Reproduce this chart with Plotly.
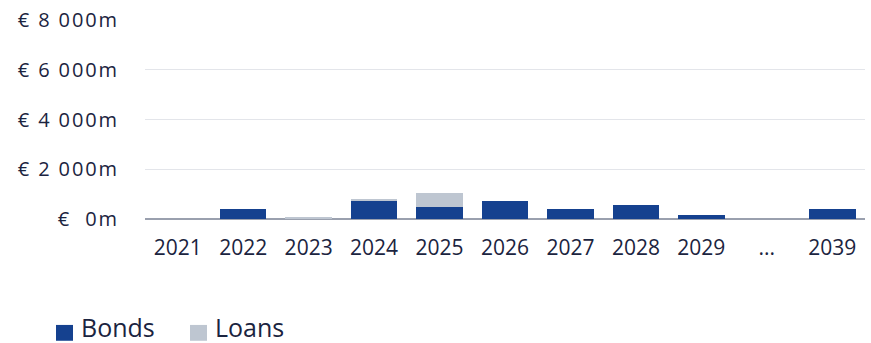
import plotly.graph_objects as go

years = ["2021", "2022", "2023", "2024", "2025", "2026", "2027", "2028", "2029", "...", "2039"]
bonds = [0, 400, 0, 740, 465, 730, 400, 560, 160, 0, 400]
loans = [0, 0, 90, 80, 600, 0, 0, 0, 0, 0, 0]
series_names = ["Bonds", "Loans"]
series_colors = ["#15418f", "#bec6d1"]
y_tickvals = [0, 2000, 4000, 6000, 8000]
y_ticktext = ["€\u00a0\u00a00m", "€ 2 000m", "€ 4 000m", "€ 6 000m", "€ 8 000m"]

navy = "#1b2440"
FONT = "Open Sans"
fig = go.Figure()
for name, vals, col in zip(series_names, [bonds, loans], series_colors):
    fig.add_trace(go.Bar(name=name, x=years, y=vals, marker_color=col, marker_line_width=0))

fig.update_layout(
    barmode="stack",
    bargap=0.29,
    width=871, height=343,
    margin=dict(l=145, r=6, t=18, b=124),
    paper_bgcolor="white", plot_bgcolor="white",
    font=dict(family=FONT, color=navy, size=20),
    showlegend=False,
)
fig.update_xaxes(showgrid=False, showline=False, zeroline=False, ticks="",
                 tickfont=dict(size=21, color=navy), ticklabelstandoff=14)
fig.update_yaxes(range=[0, 8000], tickvals=y_tickvals,
                 ticktext=['<span style="letter-spacing:1.9px">' + t + '</span>' for t in y_ticktext],
                 showgrid=True, gridcolor="#e3e5ea", gridwidth=1,
                 zeroline=True, zerolinecolor="#9aa0ae", zerolinewidth=2,
                 showline=False, ticks="", ticklabelstandoff=25,
                 tickfont=dict(size=20, color=navy))

# custom legend (larger symbols than plotly's built-in legend)
leg_x = [56, 190]
for i, (name, col) in enumerate(zip(series_names, series_colors)):
    x0 = leg_x[i]
    fig.add_shape(type="rect", xref="paper", yref="paper",
                  x0=(x0 - 145) / 720, x1=(x0 + 17 - 145) / 720,
                  y0=(219 - 342) / 201, y1=(219 - 326) / 201,
                  fillcolor=col, line_width=0)
    fig.add_annotation(xref="paper", yref="paper", x=(x0 + 24 - 145) / 720,
                       y=(219 - 328) / 201, xanchor="left", yanchor="middle",
                       text=name, showarrow=False, borderpad=0,
                       font=dict(family=FONT, size=25, color=navy))

fig.write_html("out.html")
